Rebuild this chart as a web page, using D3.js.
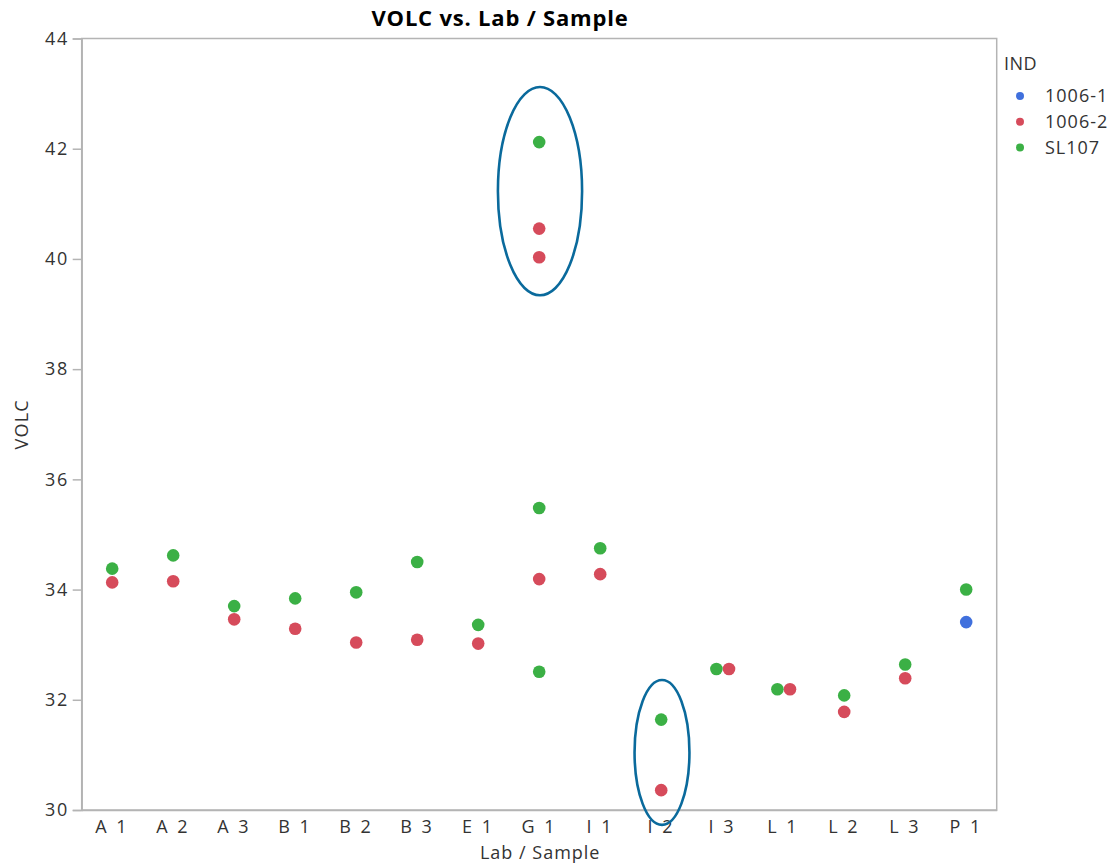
<!DOCTYPE html>
<html>
<head>
<meta charset="utf-8">
<script src="https://cdn.jsdelivr.net/npm/d3@7"></script>
<style>
  html, body { margin: 0; padding: 0; background: #fff; }
  svg { display: block; font-family: "Open Sans", "Noto Sans", sans-serif; }
</style>
</head>
<body>
<svg id="chart" width="1112" height="863"></svg>
<script>
// Categories along the x axis (Lab / Sample)
const categories = ["A 1", "A 2", "A 3", "B 1", "B 2", "B 3", "E 1", "G 1",
                    "I 1", "I 2", "I 3", "L 1", "L 2", "L 3", "P 1"];

// Legend groups (IND)
const groups = ["1006-1", "1006-2", "SL107"];
const groupColors = ["#4070dd", "#d64b5b", "#3bb045"];

// VOLC measurements per group: [Lab / Sample, VOLC]
const values1006_1 = [["P 1", 33.41]];
const values1006_2 = [
  ["A 1", 34.13], ["A 2", 34.15], ["A 3", 33.46], ["B 1", 33.29], ["B 2", 33.04],
  ["B 3", 33.09], ["E 1", 33.02], ["G 1", 40.55], ["G 1", 40.03], ["G 1", 34.19],
  ["I 1", 34.28], ["I 2", 30.36], ["I 3", 32.56], ["L 1", 32.19], ["L 2", 31.78],
  ["L 3", 32.39]
];
const valuesSL107 = [
  ["A 1", 34.38], ["A 2", 34.62], ["A 3", 33.70], ["B 1", 33.84], ["B 2", 33.95],
  ["B 3", 34.50], ["E 1", 33.36], ["G 1", 42.12], ["G 1", 35.48], ["G 1", 32.51],
  ["I 1", 34.75], ["I 2", 31.64], ["I 3", 32.56], ["L 1", 32.19], ["L 2", 32.08],
  ["L 3", 32.64], ["P 1", 34.00]
];

// Y axis ticks
const yTicks = [30, 32, 34, 36, 38, 40, 42, 44];

// Highlight ellipses: category, VOLC span, half width as fraction of a band
const highlights = [
  { cat: "G 1", lo: 39.34, hi: 43.12, half: 0.69 },
  { cat: "I 2", lo: 29.73, hi: 32.36, half: 0.45 }
];

const svg = d3.select("#chart");
const W = 1112, H = 863;
const m = { left: 81.7, top: 38.5, right: W - 996.7, bottom: H - 810 };
const pw = W - m.left - m.right, ph = H - m.top - m.bottom;

const x = d3.scaleBand().domain(categories).range([m.left, m.left + pw]).padding(0);
const y = d3.scaleLinear().domain([30, 44]).range([m.top + ph, m.top]);

const axisColor = "#b4b4b4";
const textColor = "#333";
const fontFamily = "'Open Sans', 'Noto Sans', sans-serif";

// Title
svg.append("text")
  .attr("x", 500).attr("y", 26)
  .attr("text-anchor", "middle")
  .attr("font-size", 22).attr("font-weight", "bold")
  .style("letter-spacing", "0.8px")
  .attr("fill", "#000")
  .text("VOLC vs. Lab / Sample");

// Frame (top and right)
svg.append("rect")
  .attr("x", m.left).attr("y", m.top)
  .attr("width", pw).attr("height", ph)
  .attr("fill", "none").attr("stroke", axisColor).attr("stroke-width", 1.5);

// Y axis
const yAxis = svg.append("g")
  .attr("transform", `translate(${m.left},0)`)
  .call(d3.axisLeft(y).tickValues(yTicks).tickSize(9).tickPadding(4));
yAxis.select(".domain").attr("stroke", axisColor).attr("stroke-width", 1.5);
yAxis.selectAll(".tick line").attr("stroke", axisColor).attr("stroke-width", 1.5);
yAxis.selectAll(".tick text")
  .attr("font-size", 18).attr("fill", textColor)
  .attr("font-family", fontFamily)
  .style("letter-spacing", "1.5px");

// X axis
const xAxis = svg.append("g")
  .attr("transform", `translate(0,${m.top + ph})`)
  .call(d3.axisBottom(x).tickSize(0).tickPadding(8));
xAxis.select(".domain").attr("stroke", axisColor).attr("stroke-width", 1.5);
xAxis.selectAll(".tick text")
  .attr("font-size", 18).attr("fill", textColor)
  .attr("font-family", fontFamily)
  .attr("dy", "0.85em")
  .style("letter-spacing", "2.5px");

// Axis titles
svg.append("text")
  .attr("transform", `translate(28,${m.top + ph / 2}) rotate(-90)`)
  .attr("text-anchor", "middle")
  .attr("font-size", 18).attr("fill", textColor)
  .style("letter-spacing", "1.2px")
  .text("VOLC");
svg.append("text")
  .attr("x", m.left + pw / 2 + 1).attr("y", 859)
  .attr("text-anchor", "middle")
  .attr("font-size", 18).attr("fill", textColor)
  .style("letter-spacing", "1px")
  .text("Lab / Sample");

// Points
const r = 6.3;
const groupValues = [values1006_1, values1006_2, valuesSL107];
const points = [];
groupValues.forEach((vals, gi) => {
  vals.forEach(([cat, v]) => points.push({ cat, v, gi }));
});

// Spread points that would sit on top of each other within a category
const byCat = d3.group(points, d => d.cat);
byCat.forEach(list => {
  list.forEach(p => { p.dx = 0; });
  const sorted = list.slice().sort((a, b) => a.v - b.v);
  const clusters = [];
  sorted.forEach(p => {
    const last = clusters[clusters.length - 1];
    if (last && Math.abs(y(last[last.length - 1].v) - y(p.v)) < r) last.push(p);
    else clusters.push([p]);
  });
  clusters.forEach(c => {
    if (c.length < 2) return;
    c.sort((a, b) => b.gi - a.gi);
    c.forEach((p, i) => { p.dx = (i - (c.length - 1) / 2) * 2 * r + 0.5; });
  });
});

svg.append("g").selectAll("circle")
  .data(points)
  .join("circle")
  .attr("cx", d => x(d.cat) + x.bandwidth() / 2 + d.dx)
  .attr("cy", d => y(d.v))
  .attr("r", r)
  .attr("fill", d => groupColors[d.gi]);

// Highlight ellipses
svg.append("g").selectAll("ellipse")
  .data(highlights)
  .join("ellipse")
  .attr("cx", d => x(d.cat) + x.bandwidth() / 2 + 0.8)
  .attr("cy", d => (y(d.lo) + y(d.hi)) / 2)
  .attr("rx", d => d.half * x.bandwidth())
  .attr("ry", d => (y(d.lo) - y(d.hi)) / 2)
  .attr("fill", "none")
  .attr("stroke", "#0a6a9c")
  .attr("stroke-width", 2.6);

// Legend
const lg = svg.append("g").attr("transform", "translate(1004,0)");
lg.append("text")
  .attr("x", 0).attr("y", 70)
  .attr("font-size", 18).attr("fill", textColor)
  .style("letter-spacing", "0.5px")
  .text("IND");
const items = lg.selectAll("g.item")
  .data(groups)
  .join("g")
  .attr("class", "item")
  .attr("transform", (d, i) => `translate(0,${96 + i * 25.7})`);
items.append("circle")
  .attr("cx", 16).attr("cy", 0).attr("r", 4)
  .attr("fill", (d, i) => groupColors[i]);
items.append("text")
  .attr("x", 41).attr("y", 0).attr("dy", "0.35em")
  .attr("font-size", 18).attr("fill", textColor)
  .style("letter-spacing", "1px")
  .text(d => d);
</script>
</body>
</html>
